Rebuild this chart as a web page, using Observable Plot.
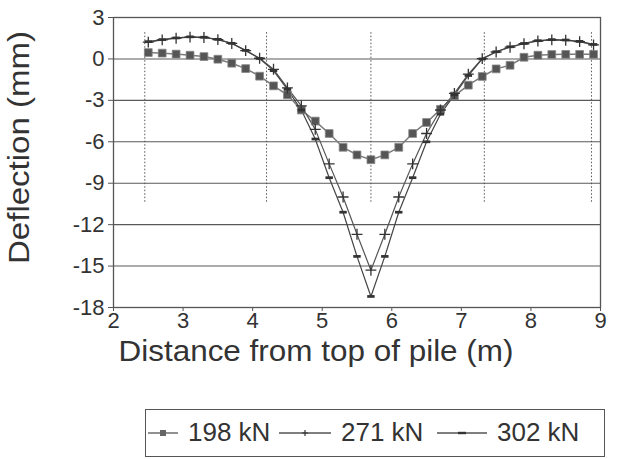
<!DOCTYPE html>
<html>
<head>
<meta charset="utf-8">
<script src="https://cdn.jsdelivr.net/npm/d3@7"></script>
<script src="https://cdn.jsdelivr.net/npm/@observablehq/plot@0.6"></script>
<style>
  body { margin: 0; background: #ffffff; font-family: "Liberation Sans", Arial, sans-serif; color: #333; }
  #wrap { position: relative; width: 617px; height: 459px; overflow: hidden; }
  #legend { position: absolute; left: 145px; top: 409px; width: 460px; height: 48px; border: 1.5px solid #555; box-sizing: border-box; }
  .item { position: absolute; top: 0; height: 45px; display: flex; align-items: center; font-size: 26px; color: #333; white-space: nowrap; }
  .item svg { margin-right: 10px; }
</style>
</head>
<body>
<div id="wrap">
  <div id="chart"></div>
  <div id="legend"></div>
</div>
<script>
// ---- data ----
const distance = [2.5, 2.7, 2.9, 3.1, 3.3, 3.5, 3.7, 3.9, 4.1, 4.3, 4.5, 4.7, 4.9, 5.1, 5.3, 5.5, 5.7,
                  5.9, 6.1, 6.3, 6.5, 6.7, 6.9, 7.1, 7.3, 7.5, 7.7, 7.9, 8.1, 8.3, 8.5, 8.7, 8.9];
const load198 = [0.46, 0.42, 0.35, 0.27, 0.17, -0.02, -0.31, -0.70, -1.25, -1.95, -2.6, -3.7, -4.5, -5.4, -6.4, -6.95, -7.3,
                 -6.95, -6.4, -5.4, -4.6, -3.65, -2.68, -1.9, -1.27, -0.72, -0.46, 0.12, 0.27, 0.32, 0.33, 0.33, 0.33];
const load271 = [1.22, 1.38, 1.50, 1.58, 1.55, 1.40, 1.12, 0.60, 0.05, -0.75, -2.1, -3.4, -5.1, -7.6, -10.0, -12.7, -15.3,
                 -12.7, -10.0, -7.6, -5.4, -3.7, -2.5, -1.1, 0.02, 0.5, 0.85, 1.1, 1.3, 1.38, 1.35, 1.25, 1.02];
const load302 = [1.25, 1.40, 1.52, 1.60, 1.57, 1.42, 1.13, 0.62, 0.03, -0.85, -2.2, -3.7, -5.8, -8.6, -11.1, -14.3, -17.2,
                 -14.3, -11.1, -8.6, -6.0, -4.0, -2.6, -1.2, 0.0, 0.52, 0.88, 1.12, 1.32, 1.40, 1.37, 1.27, 1.05];
const seriesNames = ["198 kN", "271 kN", "302 kN"];
const xTicks = [2, 3, 4, 5, 6, 7, 8, 9];
const yTicks = [3, 0, -3, -6, -9, -12, -15, -18];
const sectionLines = [2.45, 4.2, 5.7, 7.33, 8.87];
const xTitle = "Distance from top of pile (m)";
const yTitle = "Deflection (mm)";

// ---- build table ----
const seriesValues = [load198, load271, load302];
const rows = [];
seriesNames.forEach((s, k) => distance.forEach((x, i) => rows.push({x, y: seriesValues[k][i], s})));
const bySeries = s => rows.filter(d => d.s === s);

const dashSymbol = {
  draw(context, size) {
    const w = Math.sqrt(size) * 0.6, h = Math.sqrt(size) * 0.22;
    context.rect(-w, -h, 2 * w, 2 * h);
  }
};

const chart = Plot.plot({
  width: 617,
  height: 400,
  marginLeft: 113,
  marginRight: 17,
  marginTop: 17,
  marginBottom: 93,
  style: {fontFamily: "'Liberation Sans', Arial, sans-serif", color: "#333", background: "transparent", overflow: "visible"},
  x: {domain: [2, 9]},
  y: {domain: [-18, 3]},
  marks: [
    Plot.gridY(yTicks, {stroke: "#5a5a5a", strokeOpacity: 1, strokeWidth: 1.1}),
    Plot.ruleX(sectionLines, {y1: 1.9, y2: -10.5, stroke: "#555", strokeWidth: 1, strokeDasharray: "1.5,2"}),
    Plot.frame({stroke: "#555", strokeWidth: 1.3}),
    Plot.axisX(xTicks, {tickSize: 4, tickPadding: 1, fontSize: 22, label: null, tickFormat: d => String(d), stroke: "#555"}),
    Plot.axisY(yTicks, {tickSize: 5, tickPadding: 4, fontSize: 22, label: null, tickFormat: d => String(d), stroke: "#555"}),
    Plot.line(bySeries("198 kN"), {x: "x", y: "y", stroke: "#7a7a7a", strokeWidth: 1.5}),
    Plot.line(bySeries("271 kN"), {x: "x", y: "y", stroke: "#555", strokeWidth: 1.2}),
    Plot.line(bySeries("302 kN"), {x: "x", y: "y", stroke: "#444", strokeWidth: 1.2}),
    Plot.dot(bySeries("198 kN"), {x: "x", y: "y", symbol: "square", r: 4.4, fill: "#555", stroke: "#888", strokeWidth: 0.8}),
    Plot.dot(bySeries("271 kN"), {x: "x", y: "y", symbol: "plus", r: 3.6, stroke: "#333", strokeWidth: 1.3}),
    Plot.dot(bySeries("302 kN"), {x: "x", y: "y", symbol: dashSymbol, r: 3.5, fill: "#333", stroke: "none"}),
    Plot.text([xTitle], {frameAnchor: "bottom", dx: -41, dy: 53, fontSize: 29, fill: "#333", textAnchor: "middle", className: "x-title"}),
    Plot.text([yTitle], {frameAnchor: "left", dx: -94, dy: -15, rotate: -90, fontSize: 29, fill: "#333", textAnchor: "middle", className: "y-title"})
  ]
});
document.getElementById("chart").appendChild(chart);
// stretch the titles to the reference's text extent
chart.querySelectorAll(".x-title text").forEach(t => { t.setAttribute("textLength", 395); t.setAttribute("lengthAdjust", "spacingAndGlyphs"); });
chart.querySelectorAll(".y-title text").forEach(t => { t.setAttribute("textLength", 233); t.setAttribute("lengthAdjust", "spacingAndGlyphs"); });

// ---- legend ----
const legendPos = [{left: 2, sw: 30}, {left: 133, sw: 52}, {left: 291, sw: 50}];
const legendMarker = [
  '<rect x="-3" y="-3" width="6" height="6" fill="#666"/>',
  '<path d="M-3,0H3M0,-3V3" stroke="#333" stroke-width="1.2"/>',
  '<rect x="-4" y="-1.2" width="8" height="2.4" fill="#333"/>'
];
const legend = document.getElementById("legend");
seriesNames.forEach((name, i) => {
  const p = legendPos[i];
  const item = document.createElement("div");
  item.className = "item";
  item.style.left = p.left + "px";
  item.innerHTML = `<svg width="${p.sw}" height="12" viewBox="${-p.sw / 2} -6 ${p.sw} 12">
      <line x1="${-p.sw / 2}" x2="${p.sw / 2}" y1="0" y2="0" stroke="#555" stroke-width="1.3"/>${legendMarker[i]}</svg><span>${name}</span>`;
  legend.appendChild(item);
});
</script>
</body>
</html>
